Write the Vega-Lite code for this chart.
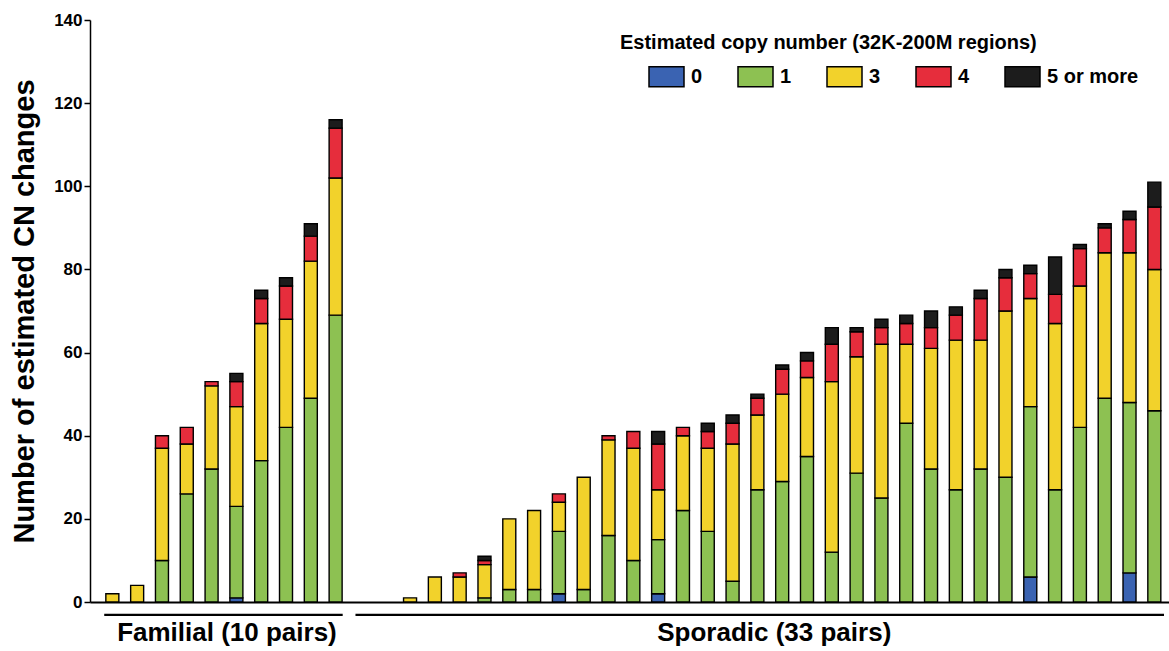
{
  "$schema": "https://vega.github.io/schema/vega-lite/v6.json",
  "width": 1079,
  "height": 582,
  "autosize": {"type": "none"},
  "padding": {"left": 90, "top": 20, "right": 0, "bottom": 49},
  "background": "white",
  "config": {"view": {"stroke": null}, "font": "Liberation Sans"},
  "datasets": {
    "counts": [
      {"p": 1, "cn": "3", "n": 2},
      {"p": 2, "cn": "3", "n": 4},
      {"p": 3, "cn": "1", "n": 10}, {"p": 3, "cn": "3", "n": 27}, {"p": 3, "cn": "4", "n": 3},
      {"p": 4, "cn": "1", "n": 26}, {"p": 4, "cn": "3", "n": 12}, {"p": 4, "cn": "4", "n": 4},
      {"p": 5, "cn": "1", "n": 32}, {"p": 5, "cn": "3", "n": 20}, {"p": 5, "cn": "4", "n": 1},
      {"p": 6, "cn": "0", "n": 1}, {"p": 6, "cn": "1", "n": 22}, {"p": 6, "cn": "3", "n": 24}, {"p": 6, "cn": "4", "n": 6}, {"p": 6, "cn": "5 or more", "n": 2},
      {"p": 7, "cn": "1", "n": 34}, {"p": 7, "cn": "3", "n": 33}, {"p": 7, "cn": "4", "n": 6}, {"p": 7, "cn": "5 or more", "n": 2},
      {"p": 8, "cn": "1", "n": 42}, {"p": 8, "cn": "3", "n": 26}, {"p": 8, "cn": "4", "n": 8}, {"p": 8, "cn": "5 or more", "n": 2},
      {"p": 9, "cn": "1", "n": 49}, {"p": 9, "cn": "3", "n": 33}, {"p": 9, "cn": "4", "n": 6}, {"p": 9, "cn": "5 or more", "n": 3},
      {"p": 10, "cn": "1", "n": 69}, {"p": 10, "cn": "3", "n": 33}, {"p": 10, "cn": "4", "n": 12}, {"p": 10, "cn": "5 or more", "n": 2},
      {"p": 13, "cn": "3", "n": 1},
      {"p": 14, "cn": "3", "n": 6},
      {"p": 15, "cn": "3", "n": 6}, {"p": 15, "cn": "4", "n": 1},
      {"p": 16, "cn": "1", "n": 1}, {"p": 16, "cn": "3", "n": 8}, {"p": 16, "cn": "4", "n": 1}, {"p": 16, "cn": "5 or more", "n": 1},
      {"p": 17, "cn": "1", "n": 3}, {"p": 17, "cn": "3", "n": 17},
      {"p": 18, "cn": "1", "n": 3}, {"p": 18, "cn": "3", "n": 19},
      {"p": 19, "cn": "0", "n": 2}, {"p": 19, "cn": "1", "n": 15}, {"p": 19, "cn": "3", "n": 7}, {"p": 19, "cn": "4", "n": 2},
      {"p": 20, "cn": "1", "n": 3}, {"p": 20, "cn": "3", "n": 27},
      {"p": 21, "cn": "1", "n": 16}, {"p": 21, "cn": "3", "n": 23}, {"p": 21, "cn": "4", "n": 1},
      {"p": 22, "cn": "1", "n": 10}, {"p": 22, "cn": "3", "n": 27}, {"p": 22, "cn": "4", "n": 4},
      {"p": 23, "cn": "0", "n": 2}, {"p": 23, "cn": "1", "n": 13}, {"p": 23, "cn": "3", "n": 12}, {"p": 23, "cn": "4", "n": 11}, {"p": 23, "cn": "5 or more", "n": 3},
      {"p": 24, "cn": "1", "n": 22}, {"p": 24, "cn": "3", "n": 18}, {"p": 24, "cn": "4", "n": 2},
      {"p": 25, "cn": "1", "n": 17}, {"p": 25, "cn": "3", "n": 20}, {"p": 25, "cn": "4", "n": 4}, {"p": 25, "cn": "5 or more", "n": 2},
      {"p": 26, "cn": "1", "n": 5}, {"p": 26, "cn": "3", "n": 33}, {"p": 26, "cn": "4", "n": 5}, {"p": 26, "cn": "5 or more", "n": 2},
      {"p": 27, "cn": "1", "n": 27}, {"p": 27, "cn": "3", "n": 18}, {"p": 27, "cn": "4", "n": 4}, {"p": 27, "cn": "5 or more", "n": 1},
      {"p": 28, "cn": "1", "n": 29}, {"p": 28, "cn": "3", "n": 21}, {"p": 28, "cn": "4", "n": 6}, {"p": 28, "cn": "5 or more", "n": 1},
      {"p": 29, "cn": "1", "n": 35}, {"p": 29, "cn": "3", "n": 19}, {"p": 29, "cn": "4", "n": 4}, {"p": 29, "cn": "5 or more", "n": 2},
      {"p": 30, "cn": "1", "n": 12}, {"p": 30, "cn": "3", "n": 41}, {"p": 30, "cn": "4", "n": 9}, {"p": 30, "cn": "5 or more", "n": 4},
      {"p": 31, "cn": "1", "n": 31}, {"p": 31, "cn": "3", "n": 28}, {"p": 31, "cn": "4", "n": 6}, {"p": 31, "cn": "5 or more", "n": 1},
      {"p": 32, "cn": "1", "n": 25}, {"p": 32, "cn": "3", "n": 37}, {"p": 32, "cn": "4", "n": 4}, {"p": 32, "cn": "5 or more", "n": 2},
      {"p": 33, "cn": "1", "n": 43}, {"p": 33, "cn": "3", "n": 19}, {"p": 33, "cn": "4", "n": 5}, {"p": 33, "cn": "5 or more", "n": 2},
      {"p": 34, "cn": "1", "n": 32}, {"p": 34, "cn": "3", "n": 29}, {"p": 34, "cn": "4", "n": 5}, {"p": 34, "cn": "5 or more", "n": 4},
      {"p": 35, "cn": "1", "n": 27}, {"p": 35, "cn": "3", "n": 36}, {"p": 35, "cn": "4", "n": 6}, {"p": 35, "cn": "5 or more", "n": 2},
      {"p": 36, "cn": "1", "n": 32}, {"p": 36, "cn": "3", "n": 31}, {"p": 36, "cn": "4", "n": 10}, {"p": 36, "cn": "5 or more", "n": 2},
      {"p": 37, "cn": "1", "n": 30}, {"p": 37, "cn": "3", "n": 40}, {"p": 37, "cn": "4", "n": 8}, {"p": 37, "cn": "5 or more", "n": 2},
      {"p": 38, "cn": "0", "n": 6}, {"p": 38, "cn": "1", "n": 41}, {"p": 38, "cn": "3", "n": 26}, {"p": 38, "cn": "4", "n": 6}, {"p": 38, "cn": "5 or more", "n": 2},
      {"p": 39, "cn": "1", "n": 27}, {"p": 39, "cn": "3", "n": 40}, {"p": 39, "cn": "4", "n": 7}, {"p": 39, "cn": "5 or more", "n": 9},
      {"p": 40, "cn": "1", "n": 42}, {"p": 40, "cn": "3", "n": 34}, {"p": 40, "cn": "4", "n": 9}, {"p": 40, "cn": "5 or more", "n": 1},
      {"p": 41, "cn": "1", "n": 49}, {"p": 41, "cn": "3", "n": 35}, {"p": 41, "cn": "4", "n": 6}, {"p": 41, "cn": "5 or more", "n": 1},
      {"p": 42, "cn": "0", "n": 7}, {"p": 42, "cn": "1", "n": 41}, {"p": 42, "cn": "3", "n": 36}, {"p": 42, "cn": "4", "n": 8}, {"p": 42, "cn": "5 or more", "n": 2},
      {"p": 43, "cn": "1", "n": 46}, {"p": 43, "cn": "3", "n": 34}, {"p": 43, "cn": "4", "n": 15}, {"p": 43, "cn": "5 or more", "n": 6}
    ],
    "groups": [
      {"group": "Familial (10 pairs)", "from": 0.673, "to": 10.285, "mid": 5.62},
      {"group": "Sporadic (33 pairs)", "from": 10.8, "to": 43.39, "mid": 27.68}
    ]
  },
  "layer": [
    {
      "data": {"name": "counts"},
      "mark": {"type": "bar", "size": 13, "stroke": "black", "strokeWidth": 1.4},
      "encoding": {
        "x": {
          "field": "p", "type": "quantitative",
          "scale": {"domain": [0.301, 43.39], "nice": false, "zero": false},
          "axis": {"title": null, "labels": false, "ticks": false, "grid": false, "domainColor": "black", "domainWidth": 2}
        },
        "y": {
          "field": "n", "type": "quantitative", "stack": "zero",
          "scale": {"domain": [0, 140], "nice": false},
          "axis": {
            "title": "Number of estimated CN changes",
            "titleFontSize": 29, "titleFontWeight": "bold", "titleColor": "black", "titlePadding": 14,
            "values": [0, 20, 40, 60, 80, 100, 120, 140],
            "labelFontSize": 17, "labelFontWeight": "bold", "labelColor": "black", "labelPadding": 2,
            "labelFlush": false, "labelOverlap": false,
            "tickColor": "black", "tickSize": 6, "tickWidth": 1.5,
            "domainColor": "black", "domainWidth": 1.5, "grid": false
          }
        },
        "color": {
          "field": "cn", "type": "nominal",
          "scale": {"domain": ["0", "1", "3", "4", "5 or more"], "range": ["#3A63B2", "#8DC152", "#F2D22B", "#E62D3C", "#1C1C1C"]},
          "legend": {
            "orient": "none", "legendX": 530, "legendY": 13, "direction": "horizontal",
            "title": "Estimated copy number (32K-200M regions)",
            "titleFontSize": 20, "titleFontWeight": "bold", "titleColor": "black", "titlePadding": 5, "titleLimit": 1000,
            "labelFontSize": 20, "labelFontWeight": "bold", "labelColor": "black", "labelOffset": 6, "labelLimit": 400,
            "symbolType": "M-1,-0.5714H1V0.5714H-1Z", "symbolSize": 1225,
            "symbolStrokeColor": "black", "symbolStrokeWidth": 1.5, "symbolOpacity": 1,
            "columnPadding": 6, "symbolOffset": 28, "padding": 0
          }
        },
        "order": {"field": "cn", "sort": "ascending"}
      }
    },
    {
      "data": {"name": "groups"},
      "mark": {"type": "rule", "stroke": "black", "strokeWidth": 2.2},
      "encoding": {
        "x": {"field": "from", "type": "quantitative"},
        "x2": {"field": "to"},
        "y": {"datum": -3.1}
      }
    },
    {
      "data": {"name": "groups"},
      "mark": {"type": "text", "fontSize": 26, "fontWeight": "bold", "baseline": "alphabetic", "align": "center", "color": "black"},
      "encoding": {
        "x": {"field": "mid", "type": "quantitative"},
        "y": {"datum": -9.5},
        "text": {"field": "group"}
      }
    }
  ]
}
